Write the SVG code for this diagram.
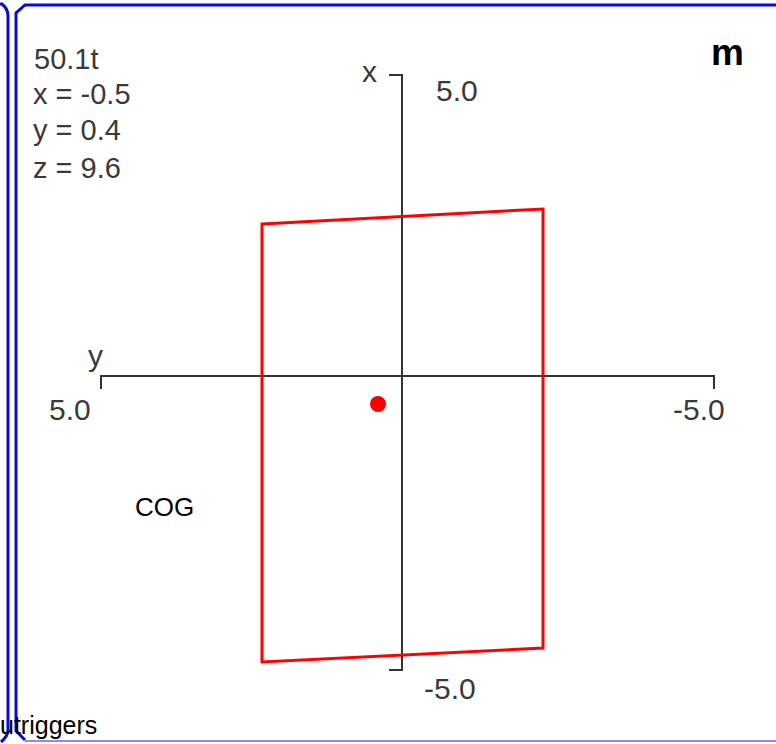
<svg xmlns="http://www.w3.org/2000/svg" width="776" height="744" viewBox="0 0 776 744">
<style>
.frame{fill:none;stroke:#0a0ad8;stroke-width:3}
.ax{fill:none;stroke:#333;stroke-width:2}
.lbl{font-family:"Liberation Sans",Arial,sans-serif;font-size:29px;fill:#3a3a3a}
.axl{font-family:"Liberation Sans",Arial,sans-serif;font-size:30px;fill:#3a3a3a}
.blk{font-family:"Liberation Sans",Arial,sans-serif;fill:#000}
</style>
<rect width="776" height="744" fill="#fff"/>
<g id="frame">
<path class="frame" d="M0,4 L2,4 Q8,9 8,16 L8,730 Q8,736 1,742"/>
<path class="frame" d="M776,5 L25,5 L16,13 L16,731 L25,740"/>
<line x1="25" y1="741" x2="776" y2="741" stroke="#8c8cec" stroke-width="2"/>
</g>
<g id="axes">
<path class="ax" d="M389,75 L402,75 L402,670 L389,670"/>
<path class="ax" d="M101,389 L101,376 L714,376 L714,389"/>
</g>
<g id="outline">
<path d="M262,224 L543,209 L543,648 L262,662 Z" fill="none" stroke="#ff0000" stroke-width="3" stroke-linejoin="miter"/>
</g>
<g id="cog">
<circle cx="378" cy="404" r="8" fill="#ff0000"/>
</g>
<g id="labels">
<text class="lbl" x="34" y="69">50.1t</text>
<text class="lbl" x="33" y="104">x = -0.5</text>
<text class="lbl" x="33" y="140">y = 0.4</text>
<text class="lbl" x="33" y="178">z = 9.6</text>
<text class="axl" x="362" y="82">x</text>
<text class="axl" x="436" y="101">5.0</text>
<text class="axl" x="88" y="366">y</text>
<text class="axl" x="49" y="420">5.0</text>
<text class="axl" x="673" y="420">-5.0</text>
<text class="axl" x="424" y="699">-5.0</text>
<text class="blk" x="711" y="65" font-size="37" font-weight="bold">m</text>
<text class="blk" x="135" y="516" font-size="26">COG</text>
<text class="blk" x="0" y="734" font-size="25">utriggers</text>
</g>
</svg>
